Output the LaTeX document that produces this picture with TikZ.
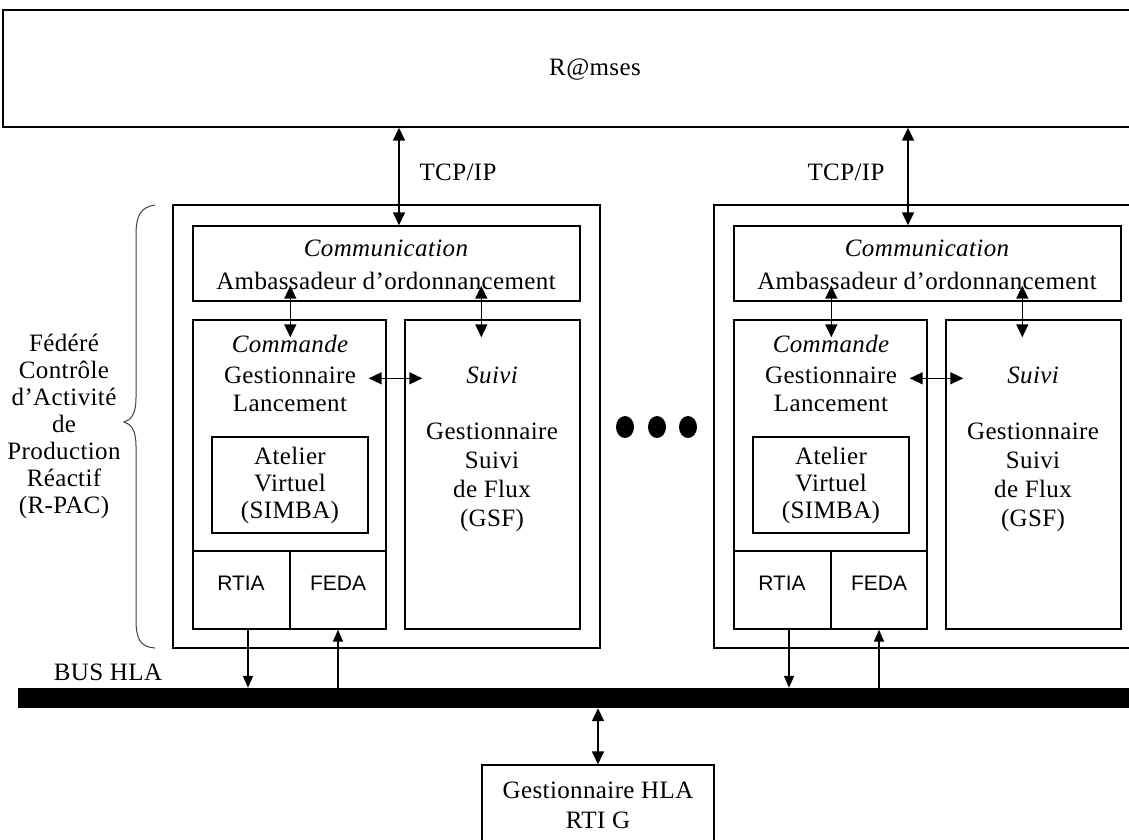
\documentclass[tikz,border=0pt]{standalone}
\usepackage{fontspec}
\setmainfont{Liberation Serif}[LetterSpace=1.5]
\newfontfamily\arialf{Liberation Sans}
\usetikzlibrary{arrows.meta,calc}
\tikzset{
  box/.style={draw, line width=1.4pt, inner sep=0pt},
  txt/.style={inner sep=0pt, align=center, font=\fontsize{25}{27}\selectfont},
  sans/.style={inner sep=0pt, align=center, font=\arialf\fontsize{21}{25}\selectfont},
  conn/.style={line width=1.5pt, {Triangle[length=13pt,width=12pt]}-{Triangle[length=13pt,width=12pt]}},
  one/.style={line width=1.5pt, -{Triangle[length=12pt,width=10pt]}},
}
\newcommand\fedblock[2]{%
\begin{scope}[xshift=#2]
  \node[box, minimum width=427pt, minimum height=443pt] (#1out) at (386.5,426.5) {};
  \node[box, minimum width=387pt, minimum height=75pt] (#1comm) at (386.5,263.5) {};
  \node[box, minimum width=193pt, minimum height=309pt] (#1cmd) at (289.5,474.5) {};
  \node[box, minimum width=175pt, minimum height=309pt] (#1suivi) at (492.5,474.5) {};
  \node[box, minimum width=156pt, minimum height=96pt] (#1atel) at (290,485) {};
  \node[box, minimum width=97pt, minimum height=78pt] (#1rtia) at (241.5,590) {};
  \node[box, minimum width=96pt, minimum height=78pt] (#1feda) at (338,590) {};
  \node[txt, font=\itshape\fontsize{25}{27}\selectfont] (#1commT) at (386,248) {Communication};
  \node[txt] (#1ambT) at (386,281) {Ambassadeur d’ordonnancement};
  \node[txt, font=\itshape\fontsize{25}{27}\selectfont] (#1cmdT) at (290,344) {Commande};
  \node[txt, font=\fontsize{25}{28}\selectfont] (#1gestT) at (290,389) {Gestionnaire\\Lancement};
  \node[txt, font=\itshape\fontsize{25}{27}\selectfont] (#1suiviT) at (492,375) {Suivi};
  \node[txt, font=\fontsize{25}{29}\selectfont] (#1gsfT) at (492,477) {Gestionnaire\\Suivi\\de Flux\\(GSF)};
  \node[txt] (#1atelT) at (290,485) {Atelier\\Virtuel\\(SIMBA)};
  \node[sans] (#1rtiaT) at (241,583) {RTIA};
  \node[sans] (#1fedaT) at (338,583) {FEDA};
  \draw[conn] ($(#1comm.south west)+(98,-16)$) -- ($(#1cmd.north west)+(98,18)$);
  \draw[conn] ($(#1comm.south west)+(289,-16)$) -- ($(#1suivi.north west)+(77,18)$);
  \draw[conn] ($(#1cmd.north east)+(-18,59)$) -- ($(#1suivi.north west)+(18,59)$);
  \draw[one] ([xshift=6.5pt]#1rtia.south) -- ([xshift=6.5pt]#1rtia.south |- bus.north);
  \draw[one] (#1feda.south |- bus.north) -- (#1feda.south);
\end{scope}}
\begin{document}
\begin{tikzpicture}[x=1pt, y=-1pt]
  \useasboundingbox (0,0) rectangle (1129,839);
  \clip (0,0) rectangle (1129,839);
  \fill[white] (0,0) rectangle (1129,839);
  % top system
  \node[box, minimum width=1132pt, minimum height=117pt] (ramses) at (569,68.5) {};
  \node[txt] (ramsesT) at (595,70) {R@mses};
  % bus
  \node[fill=black, inner sep=0pt, minimum width=1117pt, minimum height=20pt] (bus) at (576.5,698) {};
  \node[txt] (busT) at (108,672) {BUS HLA};
  % federates
  \fedblock{A}{0pt}
  \fedblock{B}{541pt}
  % TCP/IP links
  \coordinate (t1) at (399,0);
  \coordinate (t2) at (908,0);
  \draw[conn] (ramses.south -| t1) -- (Acomm.north -| t1);
  \draw[conn] (ramses.south -| t2) -- (Bcomm.north -| t2);
  \node[txt] (tcpA) at (458,172) {TCP/IP};
  \node[txt] (tcpB) at (846,172) {TCP/IP};
  % dots
  \fill (625,427) ellipse [x radius=9pt, y radius=11pt];
  \fill (657,427) ellipse [x radius=9pt, y radius=11pt];
  \fill (688,427) ellipse [x radius=9pt, y radius=11pt];
  % brace and label
  \draw[line width=1pt, black!75] (155,205) .. controls (141,207) and (136,215) .. (136,235)
     -- (136,398) .. controls (136,414) and (131,420) .. (124,422)
     .. controls (131,424) and (136,430) .. (136,446)
     -- (136,620) .. controls (136,640) and (141,647) .. (155,648);
  \node[txt] (fedT) at (64,426) {Fédéré\\Contrôle\\d’Activité\\de\\Production\\Réactif\\(R-PAC)};
  % HLA manager
  \node[box, minimum width=232pt, minimum height=80pt] (hla) at (598,805) {};
  \node[txt, font=\fontsize{25}{30}\selectfont] (hlaT) at (598,805) {Gestionnaire HLA\\RTI G};
  \draw[conn] (bus.south -| hla.north) -- (hla.north);
\end{tikzpicture}
\end{document}
